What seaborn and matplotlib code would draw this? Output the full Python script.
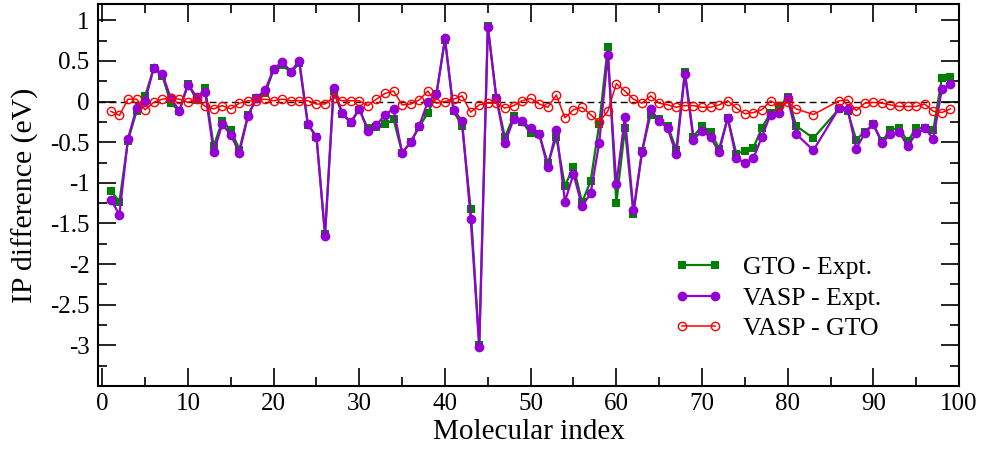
import numpy as np
import pandas as pd
import matplotlib
matplotlib.use("Agg")
import matplotlib.pyplot as plt
import seaborn as sns

# molecule indices (82, 84, 85 are absent in the figure)
mol_idx = list(range(1, 82)) + [83] + list(range(86, 100))

gto_expt = [-1.10, -1.23, -0.48, -0.12, 0.07, 0.41, 0.32, -0.02, -0.12, 0.22,
            0.02, 0.17, -0.55, -0.24, -0.35, -0.59, -0.17, 0.04, 0.10, 0.39,
            0.45, 0.36, 0.47, -0.29, -0.43, -1.63, 0.13, -0.15, -0.26, -0.10,
            -0.33, -0.31, -0.28, -0.22, -0.63, -0.50, -0.31, -0.14, 0.09, 0.76,
            -0.12, -0.30, -1.32, -3.00, 0.93, 0.04, -0.44, -0.18, -0.25, -0.39,
            -0.40, -0.76, -0.44, -1.04, -0.80, -1.24, -0.98, -0.28, 0.67, -1.25,
            -0.33, -1.38, -0.61, -0.16, -0.22, -0.30, -0.59, 0.37, -0.43, -0.30,
            -0.37, -0.58, -0.20, -0.64, -0.61, -0.57, -0.32, -0.14, -0.07, 0.06,
            -0.30,
            -0.45,
            -0.09, -0.12, -0.47, -0.37, -0.28, -0.49, -0.35, -0.32, -0.49, -0.33,
            -0.32, -0.35, 0.29, 0.30]

vasp_expt = [-1.21, -1.39, -0.455, -0.08, 0.01, 0.41, 0.345, 0.04, -0.11, 0.21,
             0.06, 0.12, -0.62, -0.28, -0.41, -0.63, -0.18, 0.05, 0.14, 0.40,
             0.49, 0.37, 0.50, -0.28, -0.43, -1.65, 0.17, -0.14, -0.25, -0.09,
             -0.36, -0.29, -0.16, -0.09, -0.63, -0.50, -0.30, 0.00, 0.09, 0.78,
             -0.10, -0.24, -1.44, -3.02, 0.92, 0.04, -0.51, -0.22, -0.24, -0.33,
             -0.40, -0.81, -0.35, -1.23, -0.89, -1.29, -1.13, -0.51, 0.57, -1.02,
             -0.19, -1.34, -0.62, -0.09, -0.24, -0.33, -0.65, 0.345, -0.47, -0.36,
             -0.44, -0.62, -0.20, -0.70, -0.75, -0.70, -0.43, -0.16, -0.14, 0.04,
             -0.40,
             -0.60,
             -0.08, -0.09, -0.58, -0.39, -0.28, -0.51, -0.40, -0.37, -0.55, -0.39,
             -0.33, -0.455, 0.155, 0.22]

vasp_gto = [-0.12, -0.17, 0.03, 0.03, -0.10, -0.01, 0.03, 0.04, 0.03, -0.01,
            0.03, -0.06, -0.09, -0.05, -0.09, -0.02, 0.01, 0.01, 0.03, 0.01,
            0.03, 0.01, 0.01, 0.01, -0.03, -0.03, 0.05, 0.01, 0.01, 0.01,
            -0.05, 0.03, 0.10, 0.13, -0.04, -0.03, 0.02, 0.13, -0.02, 0.00,
            0.03, 0.07, -0.13, -0.04, -0.02, -0.02, -0.08, -0.05, 0.01, 0.04,
            -0.03, -0.07, 0.08, -0.20, -0.10, -0.07, -0.16, -0.25, -0.12, 0.22,
            0.13, 0.03, -0.02, 0.07, -0.02, -0.04, -0.07, -0.05, -0.05, -0.07,
            -0.07, -0.04, 0.01, -0.08, -0.15, -0.135, -0.10, 0.01, -0.05, -0.01,
            -0.09,
            -0.16,
            0.01, 0.02, -0.11, -0.02, -0.01, -0.02, -0.04, -0.06, -0.06, -0.06,
            -0.03, -0.12, -0.135, -0.09]

plt.rcParams['font.family'] = ['Liberation Serif', 'DejaVu Serif']
plt.rcParams['axes.unicode_minus'] = False

fig = plt.figure(figsize=(9.83, 4.53), dpi=100)
ax = fig.add_axes([0.0997, 0.148, 0.8759, 0.843])

ax.axhline(0, color='black', lw=1.0, ls=(0, (5, 3)), zorder=1)

sns.lineplot(x=mol_idx, y=gto_expt, ax=ax, color='#008000', lw=1.6,
             marker='s', markersize=6, markeredgewidth=0, sort=False,
             errorbar=None, label='GTO - Expt.', zorder=2)
sns.lineplot(x=mol_idx, y=vasp_expt, ax=ax, color='#9400D3', lw=1.6,
             marker='o', markersize=7, markeredgewidth=0, sort=False,
             errorbar=None, label='VASP - Expt.', zorder=3)
sns.lineplot(x=mol_idx, y=vasp_gto, ax=ax, color='#FF0000', lw=1.1,
             marker='o', markersize=6, markerfacecolor='none',
             markeredgecolor='#FF0000', markeredgewidth=1.0, sort=False,
             errorbar=None, label='VASP - GTO', zorder=4)

ax.set_xlim(-0.5, 100)
ax.set_ylim(-3.5, 1.2)
ax.set_xticks(np.arange(0, 101, 10))
ax.set_xticks(np.arange(0, 101, 5), minor=True)
ax.set_yticks(np.arange(-3, 1.01, 0.5))
ax.set_yticks(np.arange(-3.5, 1.2, 0.25), minor=True)
ax.set_yticklabels(['-3', '-2.5', '-2', '-1.5', '-1', '-0.5', '0', '0.5', '1'])

ax.tick_params(which='both', direction='in', top=True, right=True,
               labelsize=18, width=1.2)
ax.tick_params(axis='x', pad=5)
ax.tick_params(axis='y', pad=6)
ax.tick_params(which='major', length=13)
ax.tick_params(which='minor', length=6.5)
for s in ax.spines.values():
    s.set_linewidth(1.5)

ax.set_xlabel('Molecular index', fontsize=21, labelpad=3)
ax.set_ylabel('IP difference (eV)', fontsize=21.5, labelpad=8)

ax.legend(loc='upper left', bbox_to_anchor=(0.669, 0.34), frameon=False,
          fontsize=18.5, handlelength=1.9, handletextpad=0.8, labelspacing=0.3,
          borderpad=0, borderaxespad=0, numpoints=2)

plt.savefig('out.png', dpi=100)
